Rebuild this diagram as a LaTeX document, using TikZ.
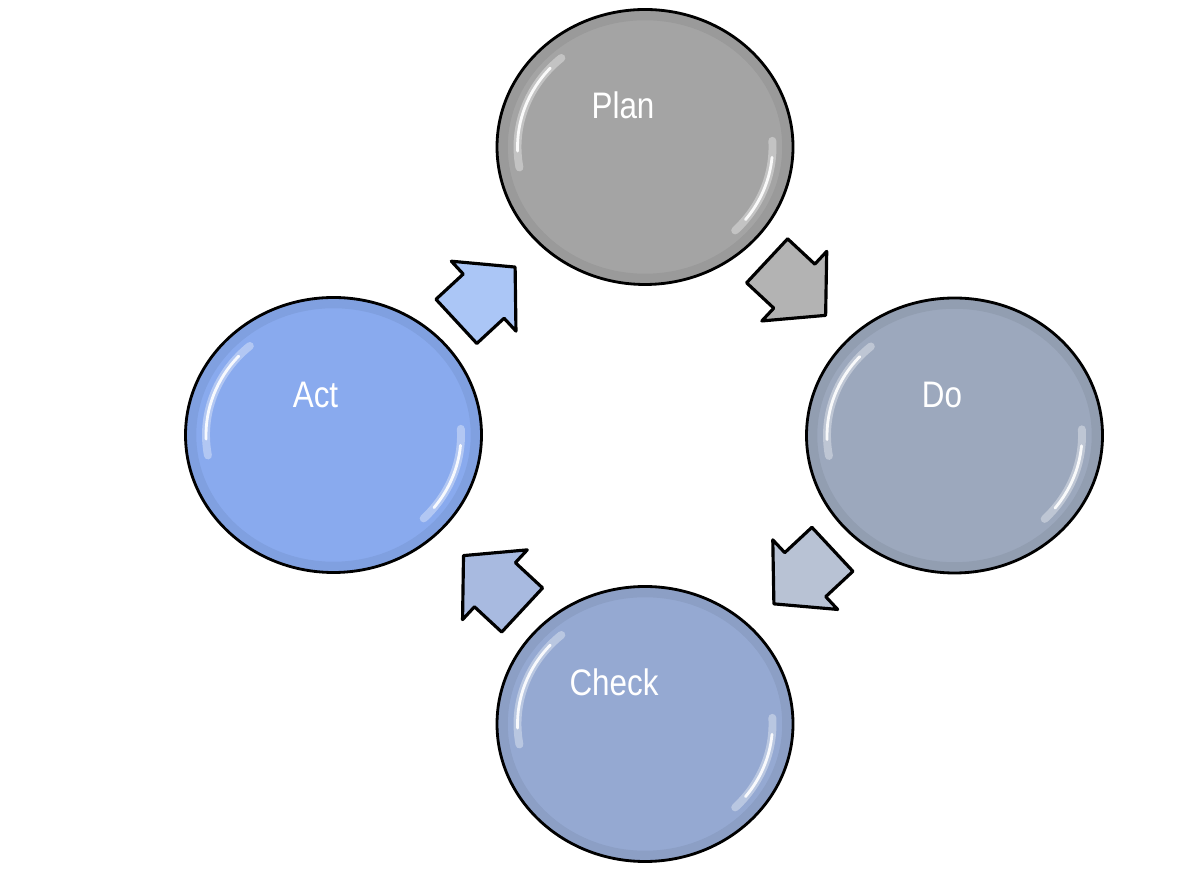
\documentclass[tikz,border=0pt]{standalone}
\usepackage{fontspec}
\newfontfamily\phasefont[FakeStretch=0.85]{Liberation Sans}
\usetikzlibrary{shapes.geometric,shapes.arrows,calc}
\definecolor{plangray}{HTML}{A4A4A4}
\definecolor{dogray}{HTML}{9CA8BD}
\definecolor{checkblue}{HTML}{95A9D2}
\definecolor{actblue}{HTML}{89AAEE}
\definecolor{plandoarrow}{HTML}{B3B3B3}
\definecolor{docheckarrow}{HTML}{B8C2D4}
\definecolor{checkactarrow}{HTML}{A8BAE0}
\definecolor{actplanarrow}{HTML}{ABC6F6}
\begin{document}
\begin{tikzpicture}[
  phase/.style={ellipse, draw=black, line width=1.6pt, minimum width=5.92cm, minimum height=5.5cm, inner sep=0pt},
  cyclearrow/.style={single arrow, draw=black, line width=1.8pt, line join=round, minimum height=1.6cm, inner xsep=0pt, inner ysep=0.57cm, single arrow head extend=0.35cm, single arrow tip angle=96, sloped, allow upside down, pos=0.365},
  phaselabel/.style={text=white, font=\phasefont\fontsize{21}{25}\selectfont, inner sep=0pt, anchor=base},
  rim/.style={black, line width=6pt, opacity=0.06},
  glow/.style={white, line width=4.5pt, line cap=round, opacity=0.35},
  glint/.style={white, line width=1.6pt, line cap=round, opacity=0.9}
]
  \useasboundingbox (0,0) rectangle (24,17.44);
  % Circles
  \node[phase, fill=plangray] (plan) at (12.9,14.5) {};
  \node[phase, fill=dogray] (do) at (19.09,8.73) {};
  \node[phase, fill=checkblue] (check) at (12.9,2.96) {};
  \node[phase, fill=actblue] (act) at (6.67,8.74) {};
  % Highlights
  \foreach \n in {plan,do,check,act} {
    \draw[rim] (\n.center) ellipse [x radius=2.85, y radius=2.64];
    \draw[glow] ([shift={(131:2.55 and 2.36)}]\n.center) arc[start angle=131, end angle=190, x radius=2.55, y radius=2.36];
    \draw[glow] ([shift={(-45:2.55 and 2.36)}]\n.center) arc[start angle=-45, end angle=3, x radius=2.55, y radius=2.36];
    \draw[glint] ([shift={(138:2.55 and 2.36)}]\n.center) arc[start angle=138, end angle=182, x radius=2.55, y radius=2.36];
    \draw[glint] ([shift={(-38:2.55 and 2.36)}]\n.center) arc[start angle=-38, end angle=-5, x radius=2.55, y radius=2.36];
  }
  % Arrows
  \path (plan) -- node[cyclearrow, fill=plandoarrow] (plando) {} (do);
  \path (do) -- node[cyclearrow, fill=docheckarrow] (docheck) {} (check);
  \path (check) -- node[cyclearrow, fill=checkactarrow] (checkact) {} (act);
  \path (act) -- node[cyclearrow, fill=actplanarrow] (actplan) {} (plan);
  % Labels
  \node[phaselabel] (plantext) at ($(plan)+(-0.44,0.56)$) {Plan};
  \node[phaselabel] (dotext) at ($(do)+(-0.25,0.56)$) {Do};
  \node[phaselabel] (checktext) at ($(check)+(-0.62,0.56)$) {Check};
  \node[phaselabel] (acttext) at ($(act)+(-0.36,0.54)$) {Act};
\end{tikzpicture}
\end{document}
